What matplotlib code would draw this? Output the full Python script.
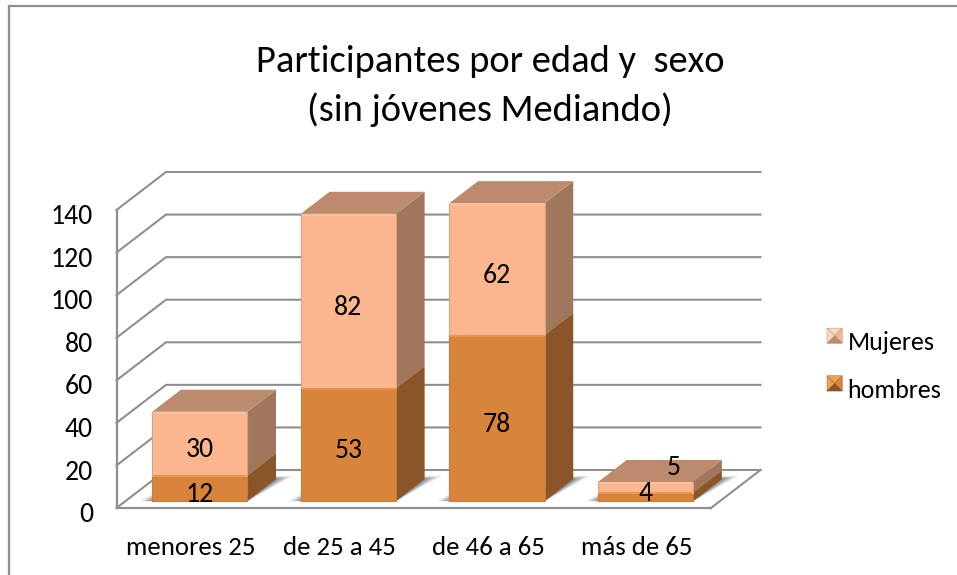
import matplotlib
matplotlib.use("Agg")
import matplotlib.pyplot as plt
from matplotlib.lines import Line2D
from matplotlib.patches import Polygon, Patch
from matplotlib.legend_handler import HandlerBase
from matplotlib.transforms import ScaledTranslation

categories = ["menores 25", "de 25 a 45", "de 46 a 65", "más de 65"]
hombres = [12, 53, 78, 4]
mujeres = [30, 82, 62, 5]
y_ticks = [0, 20, 40, 60, 80, 100, 120, 140]
title = "Participantes por edad y  sexo\n(sin jóvenes Mediando)"

W, H = 957, 575
plt.rcParams["font.family"] = ["Carlito", "Lato", "DejaVu Sans"]

GRID = "#8F8F8F"
C_M = dict(front="#FBB58F", top="#BC8A6C", side="#A0775C", edge="#D9A384", hi="#FFC6A4")
C_H = dict(front="#D9843C", top="#A86A33", side="#8A5529", edge="#C87B3A", hi="#E8924A")

fig = plt.figure(figsize=(W / 100, H / 100), dpi=100, facecolor="white")
L, R, T, B = 116.5, 711.0, 210.0, 508.0
ax = fig.add_axes([L / W, 1 - B / H, (R - L) / W, (B - T) / H])
ax.set_xlim(-0.5, 3.5)
ax.set_ylim(0, 140)
ax.patch.set_visible(False)

# oblique depth: a unit of depth moves this far in data units
DX = 49.5 / ((R - L) / 4)
DY = 38.0 / ((B - T) / 140)
D0, D1 = 0.18, 0.76
BW = 0.64


def pr(x, v, d):
    return x + d * DX, v + d * DY


# walls and floor
for s in ("top", "right"):
    ax.spines[s].set_visible(False)
for s in ("left", "bottom"):
    ax.spines[s].set_color(GRID)
    ax.spines[s].set_linewidth(1.6)
ax.set_xticks(range(len(categories)), categories)
ax.set_yticks(y_ticks)
ax.tick_params(axis="x", length=0, pad=20, labelsize=19.3)
ax.tick_params(axis="y", length=0, pad=17, labelsize=20)
for lab in ax.get_yticklabels():
    lab.set_transform(lab.get_transform() + ScaledTranslation(0, -3 / 72, fig.dpi_scale_trans))

x_left, x_right = -0.5, 3.5
for v in y_ticks:
    xb, yb = pr(x_left, v, 1)
    xr, _ = pr(x_right, v, 1)
    ax.plot([x_left, xb, xr], [v, yb, yb], color=GRID, lw=1.5, clip_on=False,
            zorder=1, solid_joinstyle="miter")
xa, ya = pr(x_right, 0, 1)
ax.plot([x_right, xa], [0, ya], color=GRID, lw=1.5, clip_on=False, zorder=1)

# bars: back faces first, stacked from the floor up
for i in range(len(categories)):
    x0 = i - BW / 2
    x1 = i + BW / 2
    # soft floor shadow
    for grow, alpha in ((0.085, 0.16), (0.06, 0.24), (0.04, 0.32), (0.02, 0.4)):
        pts = [pr(x0 - grow, 0, D0), pr(x1, 0, D0), pr(x1 + grow, 0, D1 + grow),
               pr(x0, 0, D1 + grow)]
        ax.add_patch(Polygon(pts, closed=True, fc="#707070", ec="none", alpha=alpha,
                             clip_on=False, zorder=2))
    bottom = 0
    for vals, c in ((hombres, C_H), (mujeres, C_M)):
        v = vals[i]
        top = bottom + v
        # side
        ax.add_patch(Polygon([pr(x1, bottom, D0), pr(x1, top, D0), pr(x1, top, D1),
                              pr(x1, bottom, D1)], closed=True, fc=c["side"], ec="none",
                             clip_on=False, zorder=3))
        # top
        ax.add_patch(Polygon([pr(x0, top, D0), pr(x1, top, D0), pr(x1, top, D1),
                              pr(x0, top, D1)], closed=True, fc=c["top"], ec="none",
                             clip_on=False, zorder=3))
        # front
        fx, fy = pr(i, bottom, D0)
        ax.bar(fx, v, width=BW, bottom=fy, color=c["front"], edgecolor=c["edge"],
               linewidth=0.8, clip_on=False, zorder=4)
        xl, yt = pr(x0, top, D0)
        xr_, _ = pr(x1, top, D0)
        ax.plot([xl + 0.006, xr_ - 0.006], [yt - 0.35, yt - 0.35], color=c["hi"], lw=1.2,
                clip_on=False, zorder=5, solid_capstyle="butt")
        bottom = top

# data labels: px offset from the centre of the front face
LABEL_SHIFT_H = [(0, -6), (0, -6), (0, -6), (0, 3)]
LABEL_SHIFT_M = [(0, -6), (0, -6), (0, -6), (28, 20)]
for i in range(len(categories)):
    bottom = 0
    for vals, shifts in ((hombres, LABEL_SHIFT_H), (mujeres, LABEL_SHIFT_M)):
        v = vals[i]
        fx, fy = pr(i, bottom + v / 2, D0)
        ax.annotate(str(v), (fx, fy), xytext=(shifts[i][0] * 0.72, shifts[i][1] * 0.72),
                    textcoords="offset points", ha="center", va="center",
                    fontsize=20, color="black", zorder=6, annotation_clip=False)
        bottom += v


class Pyramid(HandlerBase):
    def create_artists(self, legend, orig, xd, yd, width, height, fontsize, trans):
        c = orig.pal
        x0, y0 = -xd, -yd
        size = 11
        y0 += 7
        x1, y1 = x0 + size, y0 + size
        mx, my = (x0 + x1) / 2, (y0 + y1) / 2
        faces = [([(x0, y1), (x1, y1), (mx, my)], c["hi"]),
                 ([(x0, y0), (x0, y1), (mx, my)], c["hi"]),
                 ([(x1, y0), (x1, y1), (mx, my)], c["front"]),
                 ([(x0, y0), (x1, y0), (mx, my)], c["side"])]
        return [Polygon(p, closed=True, fc=col, ec=c["top"], lw=0.3, transform=trans)
                for p, col in faces]


h_m = Patch(label="Mujeres")
h_m.pal = dict(hi="#FCD8C0", front="#E8B79A", side="#B98A6C", top="#B98A6C")
h_h = Patch(label="hombres")
h_h.pal = dict(hi="#F0A055", front="#D9843C", side="#8A5529", top="#8A5529")
fig.legend(handles=[h_m, h_h], labels=["Mujeres", "hombres"],
           handler_map={Patch: Pyramid()}, frameon=False, fontsize=18.6,
           loc="upper left", bbox_to_anchor=(827 / W, 1 - 330 / H),
           borderpad=0, borderaxespad=0, handlelength=0.6, handletextpad=0.2,
           labelspacing=0.9, handleheight=1.0)

# title
fig.text(490 / W, 1 - 86 / H, title, ha="center", va="center", fontsize=27.7,
         linespacing=1.53, color="black")

# outer frame of the chart area
for xs, ys in (((9, 9), (575, 6)), ((9, 957), (6, 6))):
    fig.add_artist(Line2D([x / W for x in xs], [1 - y / H for y in ys], color=GRID, lw=1.6))

fig.savefig("out.png", dpi=100, facecolor="white")
